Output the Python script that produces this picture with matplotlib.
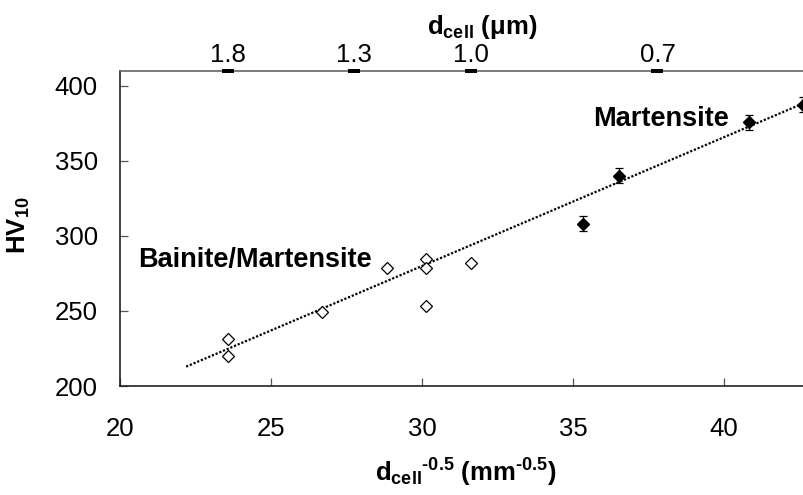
import numpy as np
import matplotlib
matplotlib.use("Agg")
import matplotlib.pyplot as plt

plt.rcParams['font.family'] = ['Liberation Sans', 'DejaVu Sans']
plt.rcParams['mathtext.fontset'] = 'custom'
plt.rcParams['mathtext.rm'] = 'Liberation Sans:bold'
plt.rcParams['mathtext.bf'] = 'Liberation Sans:bold'
plt.rcParams['mathtext.it'] = 'Liberation Sans:bold'
plt.rcParams['mathtext.default'] = 'rm'

# Bainite/Martensite (open diamonds)
bm_x = [23.56, 23.56, 26.7, 28.85, 30.13, 30.13, 30.13, 31.62]
bm_y = [231.3, 220.2, 249.5, 278.9, 284.7, 278.4, 253.5, 281.8]
# Martensite (filled diamonds with error bars)
m_x = [35.33, 36.52, 40.83, 42.6]
m_y = [308.0, 340.0, 375.5, 387.3]
m_err = [5.0, 5.0, 5.0, 5.0]
# Linear fit line
fit_x = [22.19, 44.0]
fit_slope = 8.58
fit_y0 = 212.9
# top axis: cell size in micrometres
top_d_um = [1.8, 1.3, 1.0, 0.7]
top_labels = ['1.8', '1.3', '1.0', '0.7']

W, H = 804, 495
fig = plt.figure(figsize=(W / 100, H / 100), dpi=100)
x0, x1 = 20, 45
px_per_unit = 30.2
left = 120 / W
bottom = 1 - 386 / H
height = (386 - 70.7) / H
width = (x1 - x0) * px_per_unit / W
ax = fig.add_axes([left, bottom, width, height])

fy = [fit_y0 + fit_slope * (x - fit_x[0]) for x in fit_x]
ax.plot(fit_x, fy, color='black', lw=1.6, linestyle=(0, (1, 0.8)), zorder=2)

ax.plot(bm_x, bm_y, linestyle='none', marker='D', markersize=5.8,
        markerfacecolor='white', markeredgecolor='black', markeredgewidth=0.9, zorder=3)
ax.errorbar(m_x, m_y, yerr=m_err, fmt='D', markersize=6.2, color='black',
            ecolor='black', elinewidth=0.9, capsize=3.0, capthick=0.9, zorder=3)

ax.set_xlim(x0, x1)
ax.set_ylim(200, 410)
ax.set_xticks([20, 25, 30, 35, 40])
ax.set_yticks([200, 250, 300, 350, 400])

for s in ['left', 'bottom']:
    ax.spines[s].set_color('#222222')
    ax.spines[s].set_linewidth(1.2)
ax.spines['right'].set_visible(False)
ax.spines['top'].set_color('#666666')
ax.spines['top'].set_linewidth(1.2)

ax.tick_params(axis='x', direction='in', length=6, width=0.9, color='#555555',
               labelsize=18.5, pad=22, top=False)
ax.tick_params(axis='y', direction='in', length=6, width=0.9, color='#555555',
               labelsize=18.5, pad=16, right=False)

ax.set_xlabel(r'$d_{cell}{}^{\text{-}0.5}$ $(mm^{\text{-}0.5})$', fontsize=18.5, va='center')
ax.xaxis.set_label_coords(0.458, -0.276)
ax.set_ylabel(r'$HV_{10}$', fontsize=18.5, va='center')
ax.yaxis.set_label_coords(-0.134, 0.51)

ax2 = ax.twiny()
ax2.set_xlim(ax.get_xlim())
top_pos = [1.0 / np.sqrt(d * 1e-3) for d in top_d_um]
ax2.set_xticks(top_pos)
ax2.set_xticklabels(top_labels)
ax2.tick_params(axis='x', direction='inout', length=2.4, width=8.6, color='black',
                labelsize=18.5, pad=1.5)
for s in ['left', 'bottom', 'right', 'top']:
    ax2.spines[s].set_visible(False)
ax2.set_xlabel(r'$d_{cell}$ $(\mu m)$', fontsize=18.5, va='center')
ax2.xaxis.set_label_coords(0.4795, 1.14)

ax.text(35.67, 372.9, 'Martensite', fontsize=19.5, fontweight='bold', ha='left', va='baseline')
ax.text(20.61, 279.5, 'Bainite/Martensite', fontsize=19.5, fontweight='bold', ha='left', va='baseline')

fig.savefig('out.png', dpi=100)
